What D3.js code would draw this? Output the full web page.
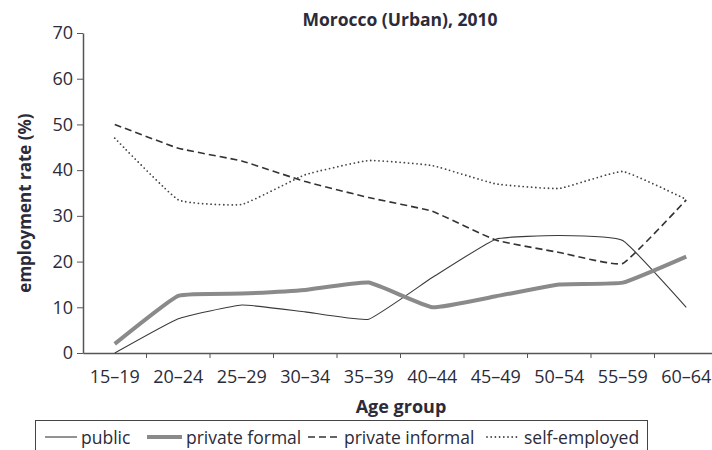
<!DOCTYPE html>
<html>
<head>
<meta charset="utf-8">
<script src="https://cdn.jsdelivr.net/npm/d3@7"></script>
<style>
  body { margin: 0; background: #fff; }
  svg { font-family: "Open Sans", sans-serif; }
</style>
</head>
<body>
<div id="chart"></div>
<script>
// Chart data
const ageGroups = ["15–19", "20–24", "25–29", "30–34", "35–39", "40–44", "45–49", "50–54", "55–59", "60–64"];
const publicRate = [0, 7.5, 10.5, 9, 7.4, 16.5, 24.9, 25.7, 24.6, 10];
const privateFormal = [2, 12.5, 13, 13.8, 15.4, 10, 12.4, 15, 15.4, 21.1];
const privateInformal = [50, 44.8, 42, 37.5, 34, 31, 24.7, 22, 19.6, 33.5];
const selfEmployed = [47, 33.5, 32.5, 39, 42.1, 41, 37, 36, 39.7, 33.6];
const yTicks = [0, 10, 20, 30, 40, 50, 60, 70];

const series = [
  {name: "public", values: publicRate, color: "#3a3a3a", width: 1.1, dash: null, cap: "butt"},
  {name: "private formal", values: privateFormal, color: "#8a8a8a", width: 4, dash: null, cap: "butt"},
  {name: "private informal", values: privateInformal, color: "#333", width: 1.6, dash: "7,4", cap: "butt"},
  {name: "self-employed", values: selfEmployed, color: "#444", width: 1.8, dash: "0,4.2", cap: "round"}
];

const W = 712, H = 450;
const textColor = "#2b2b3a";

const svg = d3.select("#chart")
  .append("svg")
    .attr("width", W)
    .attr("height", H);

// Scales
const x = d3.scaleBand()
  .domain(ageGroups)
  .range([83, 718]);
const y = d3.scaleLinear()
  .domain([0, 70])
  .range([353, 33]);

// Title
svg.append("text")
  .attr("x", 400).attr("y", 26)
  .attr("text-anchor", "middle")
  .attr("font-size", 17.5).attr("font-weight", "bold")
  .attr("fill", textColor)
  .text("Morocco (Urban), 2010");

// Y axis
const yAxis = svg.append("g")
  .attr("transform", "translate(83,0)")
  .call(d3.axisLeft(y).tickValues(yTicks).tickSize(6).tickPadding(4).tickSizeOuter(0));
yAxis.selectAll("text").attr("font-size", 18).attr("fill", textColor).attr("font-family", "Open Sans");

// X axis
const xAxis = svg.append("g")
  .attr("transform", "translate(0,353)")
  .call(d3.axisBottom(x).tickSize(0).tickPadding(17));
xAxis.selectAll("text").attr("font-size", 18).attr("fill", textColor).attr("font-family", "Open Sans");
// ticks at band edges
xAxis.selectAll(".edge")
  .data(ageGroups.slice(1))
  .enter().append("line")
    .attr("x1", d => x(d)).attr("x2", d => x(d))
    .attr("y1", 0).attr("y2", 5)
    .attr("stroke", "#555");

svg.selectAll(".domain").attr("stroke", "#555").attr("stroke-width", 1.5);
svg.selectAll(".tick line").attr("stroke", "#555");

// Axis titles
svg.append("text")
  .attr("transform", "translate(31,203) rotate(-90)")
  .attr("text-anchor", "middle")
  .attr("font-size", 17).attr("font-weight", "bold")
  .attr("fill", textColor)
  .text("employment rate (%)");

svg.append("text")
  .attr("x", 401).attr("y", 413)
  .attr("text-anchor", "middle")
  .attr("font-size", 18).attr("font-weight", "bold")
  .attr("fill", textColor)
  .text("Age group");

// Lines
const line = d3.line()
  .x((d, i) => x(ageGroups[i]) + x.bandwidth() / 2)
  .y(d => y(d))
  .curve(d3.curveCardinal.tension(0.65));

svg.selectAll(".series")
  .data(series)
  .enter().append("path")
    .attr("fill", "none")
    .attr("stroke", d => d.color)
    .attr("stroke-width", d => d.width)
    .attr("stroke-dasharray", d => d.dash)
    .attr("stroke-linecap", d => d.cap)
    .attr("d", d => line(d.values));

// Legend
const legend = svg.append("g");
legend.append("rect")
  .attr("x", 35.5).attr("y", 420.5)
  .attr("width", 612).attr("height", 40)
  .attr("fill", "#fff").attr("stroke", "#444");

const legendX = [45, 147, 308, 487];
const lineLen = [32, 35, 32, 33];
const legendItems = legend.selectAll(".item")
  .data(series)
  .enter().append("g")
    .attr("transform", (d, i) => "translate(" + legendX[i] + ",0)");
legendItems.append("line")
  .attr("x1", 0).attr("x2", (d, i) => lineLen[i])
  .attr("y1", 437).attr("y2", 437)
  .attr("stroke", d => d.color)
  .attr("stroke-width", d => d.width)
  .attr("stroke-dasharray", d => d.dash)
  .attr("stroke-linecap", d => d.cap);
legendItems.append("text")
  .attr("x", (d, i) => lineLen[i] + 4)
  .attr("y", 444)
  .attr("font-size", 17.5)
  .attr("fill", textColor)
  .text(d => d.name);
</script>
</body>
</html>
